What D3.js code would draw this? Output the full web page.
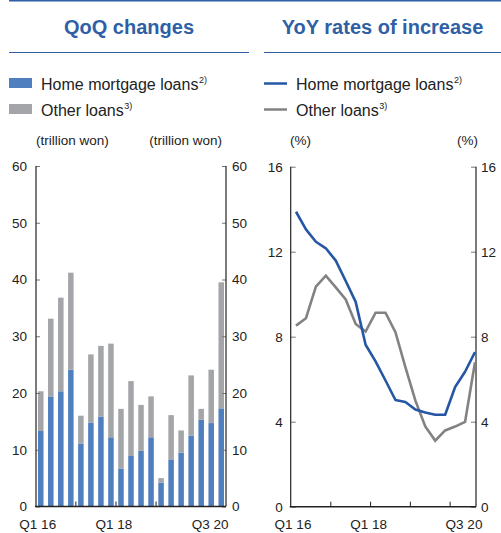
<!DOCTYPE html>
<html>
<head>
<meta charset="utf-8">
<script src="https://cdn.jsdelivr.net/npm/d3@7"></script>
<style>
  html, body { margin: 0; padding: 0; background: #fff; }
  svg { display: block; font-family: "Liberation Sans", Arial, Helvetica, sans-serif; }
</style>
</head>
<body>
<svg id="chart" width="501" height="533"></svg>
<script>
// ---------- DATA ----------
const quarters = ["Q1 16","Q2 16","Q3 16","Q4 16","Q1 17","Q2 17","Q3 17","Q4 17",
                  "Q1 18","Q2 18","Q3 18","Q4 18","Q1 19","Q2 19","Q3 19","Q4 19",
                  "Q1 20","Q2 20","Q3 20"];
// QoQ changes (trillion won)
const mortgageQoQ = [13.3, 19.4, 20.3, 24.1, 11.1, 14.8, 15.8, 12.2, 6.7, 8.9, 9.8, 12.2, 4.2, 8.3, 9.5, 12.5, 15.3, 14.7, 17.3];
const otherQoQ    = [7.0, 13.7, 16.5, 17.1, 4.9, 12.0, 12.5, 16.5, 10.5, 13.2, 8.1, 7.2, 0.8, 7.8, 3.9, 10.6, 1.9, 9.4, 22.2];
// YoY rates of increase (%)
const mortgageYoY = [13.88, 13.05, 12.47, 12.16, 11.58, 10.62, 9.64, 7.62, 6.84, 5.94, 5.02, 4.93, 4.57, 4.43, 4.33, 4.33, 5.63, 6.35, 7.27];
const otherYoY    = [8.52, 8.87, 10.36, 10.87, 10.32, 9.75, 8.60, 8.24, 9.13, 9.13, 8.21, 6.57, 5.00, 3.78, 3.11, 3.59, 3.77, 3.99, 6.80];
// Axis ticks / labels
const qoqTicks = [0, 10, 20, 30, 40, 50, 60];
const yoyTicks = [0, 4, 8, 12, 16];
const xTickLabels = ["Q1 16", "Q1 18", "Q3 20"];
const xLabelDx = [-3, -7, -11];
const yearBoundaryQoQ = ["Q1 17", "Q1 18", "Q1 19"];
const yearBoundaryYoY = ["Q4 16", "Q4 17", "Q4 18", "Q4 19"];
const seriesNames = ["Home mortgage loans", "Other loans"];
const seriesNotes = ["2)", "3)"];
const titles = ["QoQ changes", "YoY rates of increase"];
const unitQoQ = "(trillion won)";
const unitYoY = "(%)";

// ---------- STYLE ----------
const C = {
  title: "#2f5fa5",
  barBlue: "#4f7fbf",
  barGray: "#a3a5a8",
  lineBlue: "#2557a4",
  lineGray: "#828282",
  axis: "#222",
  tick: "#777",
  text: "#222"
};

const svg = d3.select("#chart");

// Top rule and title underlines
svg.append("line").attr("x1", 9).attr("x2", 501).attr("y1", 0.75).attr("y2", 0.75)
  .attr("stroke", C.title).attr("stroke-width", 1.5);
const panels = [{x0: 9, x1: 249}, {x0: 264, x1: 501}];
panels.forEach((p, i) => {
  svg.append("text").attr("x", (p.x0 + p.x1) / 2).attr("y", 34)
    .attr("text-anchor", "middle").attr("font-size", 20).attr("font-weight", "bold")
    .attr("fill", C.title).text(titles[i]);
  svg.append("line").attr("x1", p.x0).attr("x2", p.x1).attr("y1", 52.5).attr("y2", 52.5)
    .attr("stroke", C.title).attr("stroke-width", 1);
});

// Legends
function legendText(x, y, name, note) {
  const t = svg.append("text").attr("x", x).attr("y", y).attr("font-size", 16).attr("fill", C.text);
  t.append("tspan").text(name);
  t.append("tspan").attr("font-size", 9).attr("dy", -7).attr("dx", 0.5).text(note);
}
[C.barBlue, C.barGray].forEach((c, i) => {
  svg.append("rect").attr("x", 9).attr("y", 78 + i * 26).attr("width", 23).attr("height", 10).attr("fill", c);
  legendText(41, 89.5 + i * 26, seriesNames[i], seriesNotes[i]);
});
[C.lineBlue, C.lineGray].forEach((c, i) => {
  svg.append("line").attr("x1", 264).attr("x2", 287).attr("y1", 83.5 + i * 26).attr("y2", 83.5 + i * 26)
    .attr("stroke", c).attr("stroke-width", 2.5);
  legendText(296, 89.5 + i * 26, seriesNames[i], seriesNotes[i]);
});

// Unit labels
svg.append("text").attr("x", 36).attr("y", 145).attr("font-size", 13.5).attr("fill", C.text).text(unitQoQ);
svg.append("text").attr("x", 222).attr("y", 145).attr("text-anchor", "end").attr("font-size", 13.5).attr("fill", C.text).text(unitQoQ);
svg.append("text").attr("x", 290).attr("y", 145).attr("font-size", 13.5).attr("fill", C.text).text(unitYoY);
svg.append("text").attr("x", 478).attr("y", 145).attr("text-anchor", "end").attr("font-size", 13.5).attr("fill", C.text).text(unitYoY);

// ---------- LEFT: stacked bars ----------
const L = {left: 36, right: 226, top: 166, bottom: 506.5};
const xB = d3.scaleBand().domain(quarters).range([L.left, L.right]).paddingInner(0.45).paddingOuter(0.2);
const yB = d3.scaleLinear().domain([0, 60]).range([L.bottom, L.top]);

const stackData = quarters.map((q, i) => ({q, mortgage: mortgageQoQ[i], other: otherQoQ[i]}));
const stacked = d3.stack().keys(["mortgage", "other"])(stackData);
const gBars = svg.append("g");
stacked.forEach((layer, li) => {
  gBars.selectAll(null).data(layer).join("rect")
    .attr("x", d => xB(d.data.q))
    .attr("width", xB.bandwidth())
    .attr("y", d => yB(d[1]))
    .attr("height", d => yB(d[0]) - yB(d[1]))
    .attr("fill", li === 0 ? C.barBlue : C.barGray);
});

function styleAxis(g) {
  g.selectAll(".domain").remove();
  g.selectAll(".tick line").attr("stroke", C.tick).attr("stroke-width", 1);
  g.selectAll(".tick text").attr("fill", C.text).attr("font-size", 13.5).attr("font-family", "Liberation Sans, Arial, sans-serif");
}

const axL = svg.append("g").attr("transform", `translate(${L.left},0)`)
  .call(d3.axisLeft(yB).tickValues(qoqTicks).tickSize(-4).tickPadding(9)).call(styleAxis);
const axR = svg.append("g").attr("transform", `translate(${L.right},0)`)
  .call(d3.axisRight(yB).tickValues(qoqTicks).tickSize(-4).tickPadding(6)).call(styleAxis);
axL.selectAll(".tick text").attr("x", -9);
axR.selectAll(".tick text").attr("x", 6);

// Frame lines
svg.append("line").attr("x1", L.left).attr("x2", L.left).attr("y1", L.top).attr("y2", L.bottom).attr("stroke", C.axis).attr("stroke-width", 1.2);
svg.append("line").attr("x1", L.right).attr("x2", L.right).attr("y1", L.top).attr("y2", L.bottom).attr("stroke", C.axis).attr("stroke-width", 1.2);
svg.append("line").attr("x1", L.left - 1).attr("x2", L.right).attr("y1", L.bottom).attr("y2", L.bottom).attr("stroke", C.axis).attr("stroke-width", 1.4);

// year boundary ticks (bottom, inward)
const stepB = xB.step();
svg.append("g").selectAll("line").data(yearBoundaryQoQ).join("line")
  .attr("x1", d => xB(d) - (stepB - xB.bandwidth()) / 2)
  .attr("x2", d => xB(d) - (stepB - xB.bandwidth()) / 2)
  .attr("y1", L.bottom).attr("y2", L.bottom - 5)
  .attr("stroke", C.axis).attr("stroke-width", 1);

svg.append("g").selectAll("text").data(xTickLabels).join("text")
  .attr("x", (d, i) => xB(d) + xB.bandwidth() / 2 + xLabelDx[i])
  .attr("y", 529).attr("text-anchor", "middle").attr("font-size", 13.5).attr("fill", C.text)
  .text(d => d);

// ---------- RIGHT: lines ----------
const R = {left: 290.7, right: 476, top: 166.7, bottom: 506.7};
const xP = d3.scalePoint().domain(quarters).range([296, 475]);
const yP = d3.scaleLinear().domain([0, 16]).range([R.bottom, R.top]);

const axL2 = svg.append("g").attr("transform", `translate(${R.left},0)`)
  .call(d3.axisLeft(yP).tickValues(yoyTicks).tickSize(-5).tickPadding(8)).call(styleAxis);
const axR2 = svg.append("g").attr("transform", `translate(${R.right},0)`)
  .call(d3.axisRight(yP).tickValues(yoyTicks).tickSize(-5).tickPadding(5)).call(styleAxis);
axL2.selectAll(".tick text").attr("x", -8);
axR2.selectAll(".tick text").attr("x", 5);

svg.append("line").attr("x1", R.left).attr("x2", R.left).attr("y1", R.top).attr("y2", R.bottom).attr("stroke", C.axis).attr("stroke-width", 1.2);
svg.append("line").attr("x1", R.right).attr("x2", R.right).attr("y1", R.top).attr("y2", R.bottom).attr("stroke", C.axis).attr("stroke-width", 1.2);
svg.append("line").attr("x1", R.left - 1).attr("x2", R.right).attr("y1", R.bottom).attr("y2", R.bottom).attr("stroke", C.axis).attr("stroke-width", 1.4);

const stepP = xP.step();
svg.append("g").selectAll("line").data(yearBoundaryYoY).join("line")
  .attr("x1", d => xP(d) + stepP / 2).attr("x2", d => xP(d) + stepP / 2)
  .attr("y1", R.bottom).attr("y2", R.bottom - 5)
  .attr("stroke", C.axis).attr("stroke-width", 1);

const line = d3.line().x((d, i) => xP(quarters[i])).y(d => yP(d));
svg.append("path").datum(otherYoY).attr("d", line).attr("fill", "none")
  .attr("stroke", C.lineGray).attr("stroke-width", 2.6).attr("stroke-linejoin", "miter");
svg.append("path").datum(mortgageYoY).attr("d", line).attr("fill", "none")
  .attr("stroke", C.lineBlue).attr("stroke-width", 2.6).attr("stroke-linejoin", "round");

svg.append("g").selectAll("text").data(xTickLabels).join("text")
  .attr("x", (d, i) => xP(d) + xLabelDx[i])
  .attr("y", 529).attr("text-anchor", "middle").attr("font-size", 13.5).attr("fill", C.text)
  .text(d => d);
</script>
</body>
</html>
